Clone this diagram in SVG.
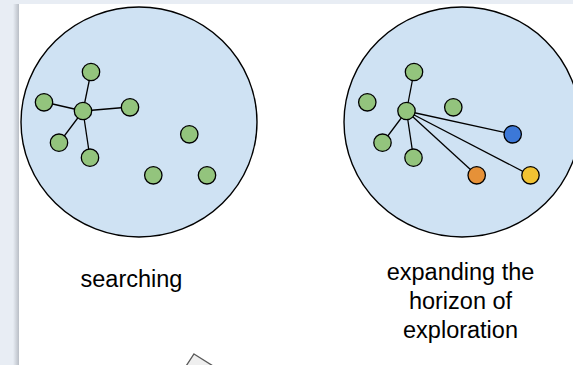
<svg xmlns="http://www.w3.org/2000/svg" width="573" height="365" viewBox="0 0 573 365">
<defs>
<linearGradient id="sh" x1="0" y1="0" x2="1" y2="0">
<stop offset="0" stop-color="#e8edf4"/>
<stop offset="1" stop-color="#b9bec6"/>
</linearGradient>
<style>
.area{fill:#cfe2f3;stroke:#000;stroke-width:1.4}
.n{stroke:#000;stroke-width:1.3}
.g{fill:#93c47d}
.lbl{font-family:"Liberation Sans",Arial,sans-serif;font-size:23.5px;fill:#000;text-anchor:middle}
.e{stroke:#000;stroke-width:1.3;fill:none}
</style>
</defs>
<rect x="0" y="0" width="573" height="365" fill="#e8edf4"/>
<rect x="13" y="4" width="6" height="361" fill="url(#sh)"/>
<rect x="19" y="4" width="554" height="361" fill="#ffffff"/>
<g id="area-left"><ellipse class="area" cx="139" cy="122" rx="118" ry="115"/></g>
<g id="area-right"><ellipse class="area" cx="462" cy="122" rx="118" ry="115"/></g>
<g id="connectors">
<line class="e" x1="83" y1="111" x2="91" y2="72"/>
<line class="e" x1="83" y1="111" x2="44" y2="102"/>
<line class="e" x1="83" y1="111" x2="130" y2="107"/>
<line class="e" x1="83" y1="111" x2="59" y2="143"/>
<line class="e" x1="83" y1="111" x2="90" y2="158"/>
<line class="e" x1="406.5" y1="111" x2="414" y2="72"/>
<line class="e" x1="406.5" y1="111" x2="382.5" y2="143"/>
<line class="e" x1="406.5" y1="111" x2="413.5" y2="158"/>
<line class="e" x1="406.5" y1="111" x2="512.7" y2="134.3"/>
<line class="e" x1="406.5" y1="111" x2="476.7" y2="175.3"/>
<line class="e" x1="406.5" y1="111" x2="530.5" y2="175.3"/>
</g>
<g id="l-top"><circle class="n g" cx="91" cy="72" r="8.7"/></g>
<g id="l-left"><circle class="n g" cx="44" cy="102.3" r="8.7"/></g>
<g id="l-hub"><circle class="n g" cx="83" cy="111" r="8.7"/></g>
<g id="l-right"><circle class="n g" cx="130" cy="107.3" r="8.7"/></g>
<g id="l-lowleft"><circle class="n g" cx="59" cy="142.7" r="8.7"/></g>
<g id="l-bottom"><circle class="n g" cx="90" cy="157.7" r="8.7"/></g>
<g id="l-iso1"><circle class="n g" cx="189.3" cy="134.3" r="8.7"/></g>
<g id="l-iso2"><circle class="n g" cx="153.3" cy="175.3" r="8.7"/></g>
<g id="l-iso3"><circle class="n g" cx="207" cy="175.3" r="8.7"/></g>
<g id="r-top"><circle class="n g" cx="414" cy="72" r="8.7"/></g>
<g id="r-left"><circle class="n g" cx="367.3" cy="102.3" r="8.7"/></g>
<g id="r-hub"><circle class="n g" cx="406.5" cy="111" r="8.7"/></g>
<g id="r-right"><circle class="n g" cx="453.3" cy="107.3" r="8.7"/></g>
<g id="r-lowleft"><circle class="n g" cx="382.5" cy="142.7" r="8.7"/></g>
<g id="r-bottom"><circle class="n g" cx="413.5" cy="157.7" r="8.7"/></g>
<g id="r-blue"><circle class="n" fill="#3c78d8" cx="512.7" cy="134.3" r="8.7"/></g>
<g id="r-orange"><circle class="n" fill="#e69138" cx="476.7" cy="175.3" r="8.7"/></g>
<g id="r-yellow"><circle class="n" fill="#f1c232" cx="530.5" cy="175.3" r="8.7"/></g>
<g id="label-searching"><text class="lbl" x="131.5" y="287">searching</text></g>
<g id="label-expanding"><text class="lbl" x="460.5" y="280">expanding the</text><text class="lbl" x="460.5" y="309">horizon of</text><text class="lbl" x="460.5" y="338">exploration</text></g>
<g id="partial-shape"><polygon points="194,354 219.5,370 203,395 177.5,379" fill="#efefef" stroke="#595959" stroke-width="1.3"/></g>
</svg>
